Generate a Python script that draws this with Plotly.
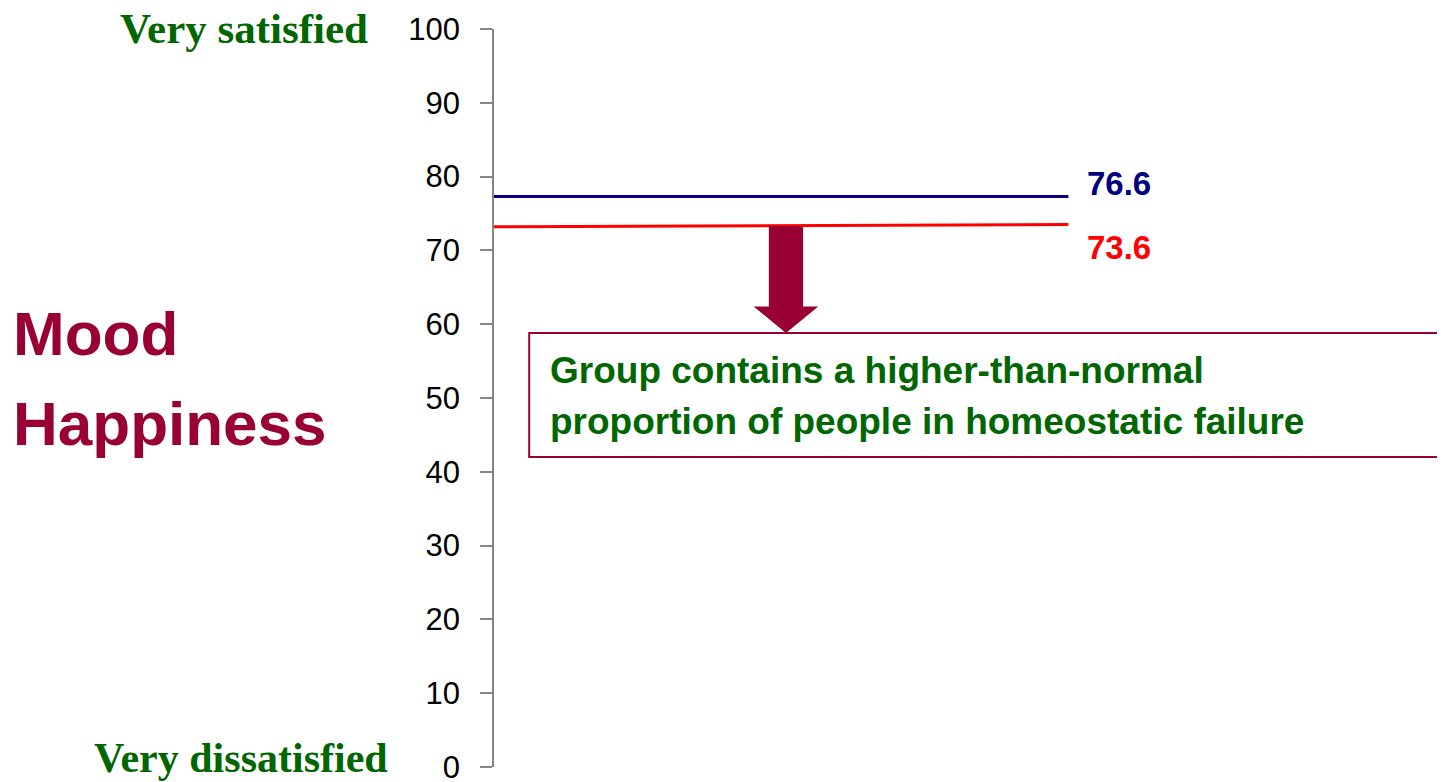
import plotly.graph_objects as go

# ---- Data ----
line_x = [0.0, 0.604]
group_a_y = [77.3, 77.3]      # drawn level of the "76.6" line
group_b_y = [73.2, 73.5]      # drawn level of the "73.6" line
group_a_label = "76.6"
group_b_label = "73.6"
y_ticks = [0, 10, 20, 30, 40, 50, 60, 70, 80, 90, 100]

DARK_RED = "#990033"
GREEN = "#006600"
NAVY = "#000080"
RED = "#FF0000"

fig = go.Figure()

# ---- Lines ----
fig.add_trace(go.Scatter(
    x=line_x, y=group_a_y, mode="lines",
    line=dict(color=NAVY, width=3),
    hoverinfo="skip", showlegend=False
))
fig.add_trace(go.Scatter(
    x=line_x, y=group_b_y, mode="lines",
    line=dict(color=RED, width=3),
    hoverinfo="skip", showlegend=False
))

# ---- Value labels at line ends ----
fig.add_annotation(
    x=line_x[-1], y=group_a_y[-1], text=f"<b>{group_a_label}</b>",
    showarrow=False, xanchor="left", yanchor="middle", xshift=17, yshift=13,
    font=dict(family="Liberation Sans", size=33, color=NAVY)
)
fig.add_annotation(
    x=line_x[-1], y=group_b_y[-1], text=f"<b>{group_b_label}</b>",
    showarrow=False, xanchor="left", yanchor="middle", xshift=17, yshift=-23,
    font=dict(family="Liberation Sans", size=33, color=RED)
)

# ---- Arrow from red line down to the callout box ----
ax = 0.307
shaft_w, head_w = 0.018, 0.034
shaft_top, head_base, tip = group_b_y[0] + 0.1, 62.4, 58.8
fig.add_shape(
    type="path",
    path=(f"M {ax - shaft_w},{shaft_top} L {ax + shaft_w},{shaft_top} "
          f"L {ax + shaft_w},{head_base} L {ax + head_w},{head_base} "
          f"L {ax},{tip} L {ax - head_w},{head_base} "
          f"L {ax - shaft_w},{head_base} Z"),
    xref="x", yref="y",
    fillcolor=DARK_RED, line=dict(width=0), layer="above"
)

# ---- Callout box ----
fig.add_shape(
    type="rect", xref="x", yref="y",
    x0=0.037, x1=0.9947, y0=42.0, y1=58.8,
    line=dict(color=DARK_RED, width=2), fillcolor="rgba(0,0,0,0)"
)
fig.add_annotation(
    x=0.0568, y=53.7, xref="x", yref="y",
    text="<b>Group contains a higher-than-normal</b>",
    showarrow=False, xanchor="left", yanchor="middle",
    font=dict(family="Liberation Sans", size=37, color=GREEN)
)
fig.add_annotation(
    x=0.0568, y=46.8, xref="x", yref="y",
    text="<b>proportion of people in homeostatic failure</b>",
    showarrow=False, xanchor="left", yanchor="middle",
    font=dict(family="Liberation Sans", size=37, color=GREEN)
)

# ---- Axis side labels ----
fig.add_annotation(
    x=-0.1304, y=100, xref="paper", yref="y", text="<b>Very satisfied</b>",
    showarrow=False, xanchor="right", yanchor="middle", yshift=1,
    font=dict(family="Liberation Serif", size=43, color=GREEN)
)
fig.add_annotation(
    x=-0.1094, y=0, xref="paper", yref="y", text="<b>Very dissatisfied</b>",
    showarrow=False, xanchor="right", yanchor="middle", yshift=9,
    font=dict(family="Liberation Serif", size=42, color=GREEN)
)
fig.add_annotation(
    x=-0.5078, y=58.8, xref="paper", yref="y", text="<b>Mood</b>",
    showarrow=False, xanchor="left", yanchor="middle",
    font=dict(family="Liberation Sans", size=62, color=DARK_RED)
)
fig.add_annotation(
    x=-0.5078, y=46.6, xref="paper", yref="y", text="<b>Happiness</b>",
    showarrow=False, xanchor="left", yanchor="middle",
    font=dict(family="Liberation Sans", size=62, color=DARK_RED)
)

# page body adds 8px on top/left, so the figure is 8px smaller
fig.update_layout(
    width=1437, height=774,
    margin=dict(l=486, r=0, t=21, b=15, autoexpand=False),
    plot_bgcolor="white", paper_bgcolor="white",
    xaxis=dict(range=[0, 1], visible=False, showgrid=False, zeroline=False),
    yaxis=dict(
        range=[0, 100], tickvals=y_ticks,
        showline=True, linecolor="#868686", linewidth=1.5,
        ticks="outside", ticklen=12, tickcolor="#868686", tickwidth=1.5,
        showgrid=False, zeroline=False,
        ticklabelstandoff=14, ticklabeloverflow="allow",
        tickfont=dict(family="Liberation Sans", size=31, color="black")
    ),
    showlegend=False
)

fig.write_html("out.html")
